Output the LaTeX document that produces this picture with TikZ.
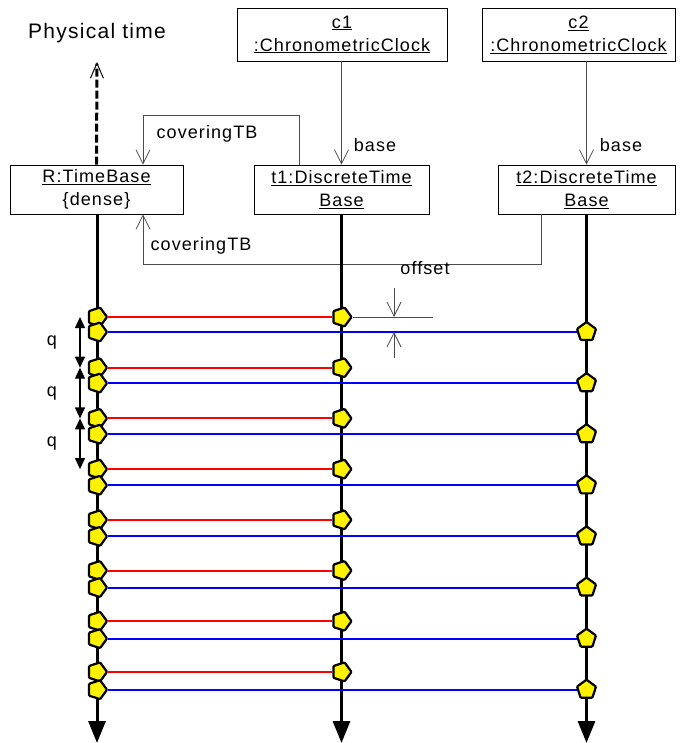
\documentclass[tikz,border=0pt]{standalone}
\usepackage{fontspec}
\setmainfont{Liberation Sans}[LetterSpace=6]
\usetikzlibrary{arrows.meta,shapes.geometric,calc}

\begin{document}
\begin{tikzpicture}[
  x=1pt, y=-1pt,
  obj/.style={
    draw,
    line width=0.8pt,
    align=center,
    inner sep=0pt,
    font=\fontsize{18}{23}\selectfont
  },
  link/.style={draw=black!70, line width=0.8pt, -{Straight Barb[length=14pt,width=14pt]}},
  lbl/.style={font=\fontsize{18}{22}\selectfont, inner sep=0pt},
  lifeline/.style={line width=3pt, -{Triangle[length=22pt,width=17pt]}},
  tick/.style={
    regular polygon,
    regular polygon sides=5,
    shape border rotate=-90,
    minimum size=20pt,
    inner sep=0pt,
    fill=yellow,
    draw,
    line width=2.2pt,
    rounded corners=1pt
  },
  redline/.style={red, line width=2pt},
  blueline/.style={blue, line width=2pt},
  qarrow/.style={line width=1.2pt, {Triangle[length=11pt,width=10pt]}-{Triangle[length=11pt,width=10pt]}}
]
\useasboundingbox (0,0) rectangle (687,743);

\node[font=\fontsize{21}{25}\selectfont] (phys) at (97,33) {Physical time};

\node[obj, minimum width=173pt, minimum height=49pt] (R) at (96.5,189.5) {\underline{R:TimeBase}\\\{dense\}};
\node[obj, minimum width=175pt, minimum height=49pt] (t1) at (341.5,189.5) {\underline{t1:DiscreteTime}\\\underline{Base}};
\node[obj, minimum width=177pt, minimum height=49pt] (t2) at (586.5,189.5) {\underline{t2:DiscreteTime}\\\underline{Base}};
\node[obj, minimum width=210pt, minimum height=53pt] (c1) at (342,34.5) {\underline{c1}\\\underline{:ChronometricClock}};
\node[obj, minimum width=193pt, minimum height=53pt] (c2) at (578.5,34.5) {\underline{c2}\\\underline{:ChronometricClock}};

\coordinate (top) at (97,62);
\coordinate (Rend) at (97,743);
\coordinate (t1end) at (341.5,743);
\coordinate (t2end) at (586.5,743);

\draw[line width=3pt, dash pattern=on 8pt off 3pt, -{Straight Barb[length=15pt,width=13pt,line width=1pt]}] (R.north) -- (top);

\draw[link] (c1.south -| t1.north) -- (t1.north);
\draw[link] (c2.south -| t2.north) -- (t2.north);
\node[lbl] (base1) at (375,145) {base};
\node[lbl] (base2) at (621,145) {base};

\draw[link] ([xshift=-42.5]t1.north) -- ++(0,-49) -| ([xshift=46.5]R.north);
\node[lbl] (cov1) at (207,134) {coveringTB};
\draw[link] ([xshift=-45.5]t2.south) -- ++(0,50) -| ([xshift=46.5]R.south);
\node[lbl] (cov2) at (201,246) {coveringTB};

\draw[lifeline] (R.south -| top) -- (Rend);
\draw[lifeline] (t1.south) -- (t1end);
\draw[lifeline] (t2.south) -- (t2end);

\foreach \i in {0,...,7}{
  \node[tick] (rr\i) at (97,{317+50.7*\i}) {};
  \node[tick] (rb\i) at (97,{332+51.1*\i}) {};
  \node[tick] (tr\i) at (341.5,{317+50.7*\i}) {};
  \node[tick, shape border rotate=0] (tb\i) at (586.5,{332+51.1*\i}) {};
  \draw[redline] (rr\i) -- (tr\i);
  \draw[blueline] (rb\i) -- (tb\i);
}

\coordinate (offend) at (433,317);
\coordinate (off1) at (394,288);
\coordinate (off2) at (394,358);
\draw[black!70, line width=0.8pt] (tr0) -- (offend);
\draw[link] (off1) -- (off1 |- tr0);
\draw[link] (off2) -- (off2 |- rb0);
\node[lbl] (offset) at (425,268) {offset};

\foreach \i/\j in {0/1,1/2,2/3}{
  \draw[qarrow] ([xshift=-17]rr\i.center) -- ([xshift=-17]rr\j.center);
  \node[lbl] (q\i) at ($([xshift=-45]rr\i.center)!0.5!([xshift=-45]rr\j.center)$) {q};
}
\end{tikzpicture}
\end{document}
